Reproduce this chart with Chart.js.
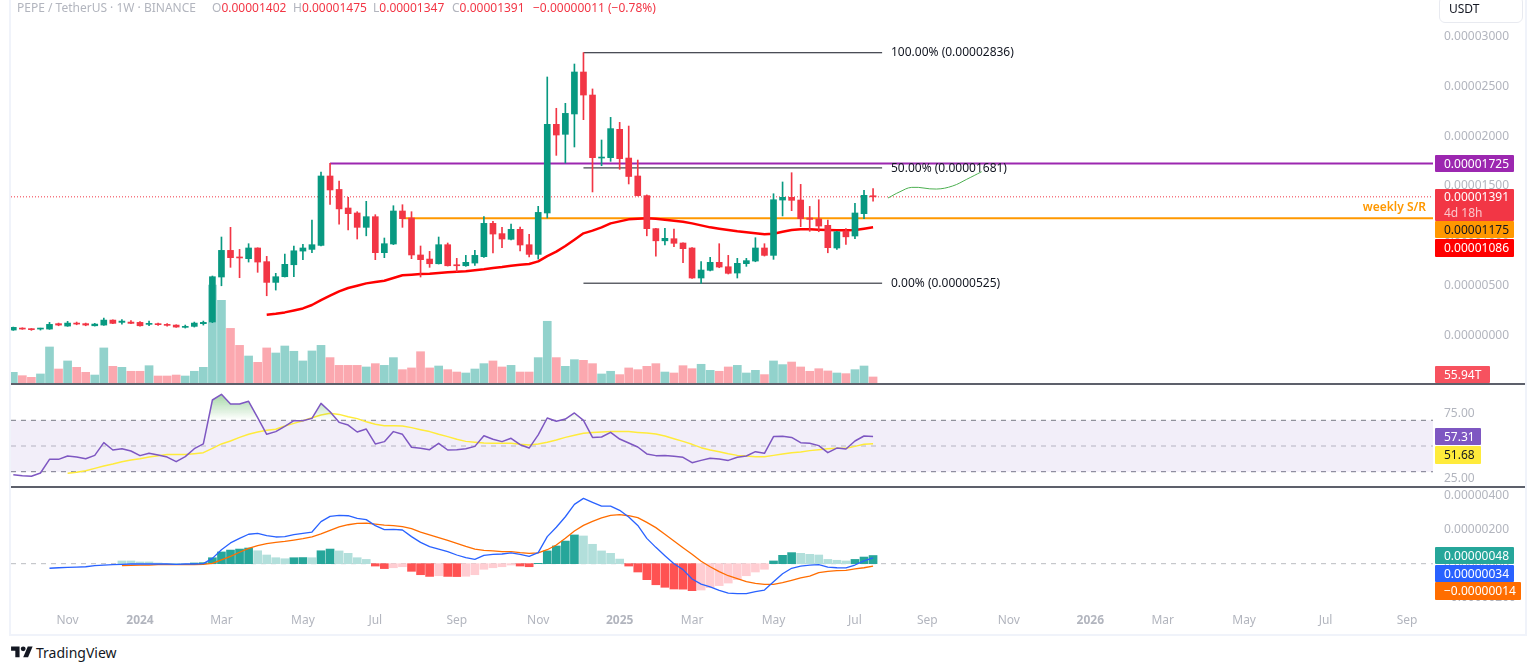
<!DOCTYPE html>
<html>
<head>
<meta charset="utf-8">
<title>PEPE / TetherUS</title>
<script src="https://cdn.jsdelivr.net/npm/chart.js@4/dist/chart.umd.min.js"></script>
<style>
  html, body { margin: 0; padding: 0; background: #fff; }
  body { width: 1536px; height: 671px; overflow: hidden; position: relative; font-family: "Noto Sans", sans-serif; font-size: 12px; color: #131722; }
  canvas { position: absolute; left: 11px; }
  .frame { position: absolute; background: #f0f3fa; }
  .sep { position: absolute; left: 11px; width: 1514px; height: 2px; background: #5d606b; }
  .head { position: absolute; top: 0; white-space: pre; line-height: 15px; color: #b2b5be; }
  .red { color: #f23645; }
  .tag { position: absolute; left: 1435px; width: 70px; padding-left: 9px; color: #fff; line-height: 17px; border-radius: 1px; white-space: nowrap; }
  .fib { position: absolute; left: 891px; line-height: 16px; white-space: nowrap; }
  .usdt { position: absolute; left: 1439px; top: -4px; width: 73px; height: 25px; padding-left: 9px; line-height: 24px; border: 1px solid #e8eaf0; border-radius: 6px; }
</style>
</head>
<body>
<div class="frame" style="left:9px;top:0;width:2px;height:636px"></div>
<div class="frame" style="left:1525px;top:0;width:2px;height:636px"></div>
<div class="frame" style="left:9px;top:634px;width:1518px;height:2px"></div>

<canvas id="mainChart" width="1514" height="383" style="top:0"></canvas>
<canvas id="rsiChart" width="1514" height="102" style="top:384px"></canvas>
<canvas id="macdChart" width="1514" height="147" style="top:487px"></canvas>

<div class="sep" style="top:383px"></div>
<div class="sep" style="top:486px"></div>

<div class="head" style="left:17px">PEPE / TetherUS · 1W · BINANCE</div>
<div class="head" style="left:212px">O<span class="red">0.00001402</span></div>
<div class="head" style="left:293px">H<span class="red">0.00001475</span></div>
<div class="head" style="left:373px">L<span class="red">0.00001347</span></div>
<div class="head" style="left:452px">C<span class="red">0.00001391</span></div>
<div class="head red" style="left:533px">−0.00000011 (−0.78%)</div>
<div class="usdt">USDT</div>

<div class="fib" style="top:44px">100.00% (0.00002836)</div>
<div class="fib" style="top:160px">50.00% (0.00001681)</div>
<div class="fib" style="top:275px">0.00% (0.00000525)</div>
<div style="position:absolute;right:110px;top:199px;color:#ff9800;font-weight:600;line-height:16px">weekly S/R</div>

<div class="tag" style="top:155px;background:#9c27b0">0.00001725</div>
<div class="tag" style="top:189px;height:32px;background:#f23645;line-height:16px">0.00001391<br><span style="color:#fbc6cb">4d 18h</span></div>
<div class="tag" style="top:221px;background:#ff9800;color:#131722">0.00001175</div>
<div class="tag" style="top:239px;height:18px;background:#ff0000">0.00001086</div>
<div class="tag" style="top:366px;width:46px;background:#f7525f">55.94T</div>
<div class="tag" style="top:428px;width:37px;background:#7e57c2">57.31</div>
<div class="tag" style="top:446px;width:37px;height:18px;background:#ffeb3b;color:#131722">51.68</div>
<div class="tag" style="top:547px;background:#26a69a">0.00000048</div>
<div class="tag" style="top:565px;background:#2962ff">0.00000034</div>
<div class="tag" style="top:582px;width:77px;height:18px;background:#ff6d00">−0.00000014</div>

<svg style="position:absolute;left:11px;top:644px" width="22" height="17" viewBox="0 0 36 28"><path fill="#131722" d="M14 22H7V11H0V4h14v18zM28 22h-8l7.5-18h8L28 22z"/><circle fill="#131722" cx="20" cy="8" r="4"/></svg>
<div style="position:absolute;left:36px;top:643px;font-size:14px;line-height:20px">TradingView</div>

<script>
// prices are in units of 0.000001 USDT, volume in T
const open_ = [0.55,0.75,0.69,0.65,0.65,1.19,0.95,1.25,1.19,0.98,1.05,1.55,1.32,1.35,1.32,1.12,1.15,1.09,1.05,0.82,0.92,1.19,1.36,5.87,8.54,7.84,7.71,8.78,7.41,5.33,5.9,7.1,8.47,8.64,9.04,16,14.65,12.79,12.29,10.85,11.92,8.31,9.18,12.49,11.79,8.08,7.67,7.2,9.11,7.04,7,7.27,7.91,11.25,10.22,9.65,10.65,9.11,8.14,12.29,21.18,20.18,22.22,26.43,24.12,17.8,17.84,20.68,17.8,16,14.03,10.72,9.5,9.71,9.28,8.78,5.77,6.54,7.34,6.9,6.27,7.21,7.47,8.78,8.04,13.59,13.86,13.59,11.79,11.69,11.05,8.78,10.48,9.98,12.22,14.02];
const high = [0.85,0.78,0.7,0.74,1.32,1.25,1.42,1.35,1.25,1.22,1.75,1.58,1.59,1.49,1.39,1.45,1.25,1.19,1.08,1.05,1.35,1.45,5.97,9.88,10.85,8.64,9.21,8.8,7.94,6.24,8.17,8.98,9.14,11.58,16.4,17.27,15.5,13.86,12.42,13.46,12.12,9.78,13.02,13.12,12.42,8.98,8.44,9.88,9.28,7.74,8.04,8.54,11.92,11.45,10.85,11.18,10.88,10.15,12.96,25.93,22.79,23.29,27.23,28.37,24.73,19.61,21.88,21.38,21.01,17.6,14.1,10.75,10.75,10.68,9.3,8.82,7.41,7.84,9.21,8.04,7.74,7.74,9.81,9.21,14.22,15.4,16.33,15.16,12.95,13.62,11.58,10.45,10.72,13.26,14.56,14.75];
const low = [0.52,0.62,0.52,0.55,0.62,0.98,0.92,1.08,0.98,0.95,1.02,1.18,1.15,1.18,0.95,0.98,1.02,0.95,0.82,0.75,0.85,1.05,1.29,4.99,6.84,5.8,7.37,6.34,3.99,4.56,5.87,5.9,7.61,8.3,8.98,13.15,11.18,10.58,9.68,10,7.61,7.81,9.12,10.85,7.71,5.87,6.84,7.17,6.97,6.4,6.94,7.04,7.84,8.28,8.81,9.58,8.48,7.88,7.67,11.79,18.07,17.3,18.91,21.65,14.4,17.03,17.47,16.67,15.2,14,10,7.97,9.08,8.9,7.31,5.72,5.23,6.47,6.8,6.17,5.77,6.94,7.4,7.97,7.64,11.99,12.52,10.92,10.45,10.41,8.3,8.64,9.14,9.71,11.72,13.47];
const close_ = [0.82,0.65,0.59,0.72,1.12,1.05,1.25,1.15,1.05,1.15,1.55,1.22,1.45,1.22,0.98,1.19,1.09,1.02,0.85,0.92,1.25,1.32,5.9,8.54,7.81,7.78,8.78,7.37,5.33,5.9,7.14,8.5,8.78,9.11,16,14.6,12.7,12.22,10.85,11.92,8.31,9.21,12.49,11.72,8.08,7.61,7.2,9.11,7,7,7.34,8.04,11.25,10.18,9.68,10.65,9.08,8.14,12.35,21.18,20.11,22.28,26.43,24.12,17.84,17.87,20.75,17.74,15.95,14.03,10.72,9.5,9.75,9.25,8.71,5.77,6.57,7.34,6.87,6.24,7.24,7.51,8.78,8.04,13.62,13.86,13.56,11.72,11.65,10.98,8.81,10.41,9.9,12.29,14.06,13.91];
const volume = [99,68,53,84,335,130,205,146,99,74,326,155,146,109,109,161,65,65,74,65,109,146,911,769,508,350,251,192,326,279,344,295,205,298,350,236,164,164,164,149,180,164,236,124,140,291,140,158,124,102,93,130,180,205,149,164,102,102,236,574,236,155,217,211,180,84,109,78,140,124,155,180,102,93,161,133,174,118,109,149,164,93,118,78,205,171,195,149,109,133,112,93,87,124,158,56];
const maStart = 28;
const maValues = [2.09,2.19,2.32,2.52,2.72,3.06,3.56,4,4.43,4.77,5,5.23,5.37,5.5,5.77,6.04,6.1,6.17,6.2,6.27,6.34,6.4,6.44,6.54,6.64,6.77,6.87,7,7.1,7.17,7.44,7.97,8.41,8.98,9.61,10.25,10.52,10.85,11.25,11.45,11.65,11.7,11.75,11.72,11.62,11.52,11.42,11.25,11.05,10.85,10.72,10.58,10.45,10.35,10.25,10.15,10.21,10.41,10.58,10.65,10.65,10.61,10.58,10.55,10.55,10.58,10.72,10.86];
const projX = [96.65,97.97,99.27,102,103.8,105.35,107];
const projY = [13.79,14.42,14.86,14.69,15,15.67,16.43];

const rsi = [27.7,26.9,26.4,29,39.6,39.6,42.2,41.4,40.1,42.7,52.6,46.9,47.9,46.1,42.5,44.3,43,41.4,37.8,41.7,47.9,51.6,85.8,90.2,82.7,82.7,84.8,72,59.1,61.2,65.3,69.7,69.7,71.5,83.2,76.7,68.4,66.3,60.9,63.2,51.6,53.4,61.2,59.1,49,48.2,47.1,52.1,46.9,47.1,47.9,49.7,58,55.2,53.4,56,51,48.4,58.6,71.8,69.2,71,75.7,70,56.7,57,60.6,55.4,52.3,49.2,43.8,42.5,42.7,42,41.2,37,38.8,40.4,39.9,38.8,41.2,42.2,45.6,44.3,57.3,57.5,56.7,52.6,52.1,50.3,44.8,48.4,47.7,53.9,57.8,57.31];
const rsiMaStart = 6;
const rsiMa = [28.7,29.5,30.8,32.6,34.4,36,37.8,39.1,40.1,41.4,42.5,43.3,43.3,43.3,44,44.8,48.2,51.6,53.9,56.7,59.1,60.9,62.2,63,65.6,67.6,69.7,72,74.1,75.4,74.6,72.8,71.3,68.9,66.9,65.8,65.8,65.6,64.3,62.7,61.2,59.1,57.3,55.2,53.6,52.9,52.3,52.1,52.1,52.1,51.3,50.8,51.6,52.9,54.7,56.7,58.3,59.9,60.6,60.9,61.2,61.2,61.2,60.6,60.1,59.3,57.8,55.7,53.6,51.3,48.7,46.9,45.6,44,42.7,42.2,41.7,41.7,42.7,43.8,44.8,45.3,46.4,47.1,47.9,48.2,48.2,49.7,51.3,51.68];

const macdStart = 4;
const macd = [-0.27,-0.24,-0.22,-0.2,-0.18,-0.12,-0.08,-0.06,-0.04,-0.02,-0.02,-0.02,-0.02,-0.02,-0.04,-0.02,-0.02,0,0.31,0.82,1.22,1.49,1.73,1.78,1.65,1.57,1.59,1.71,1.78,1.86,2.47,2.78,2.84,2.82,2.67,2.59,2.24,2,2.02,1.98,1.59,1.25,1,0.86,0.71,0.51,0.35,0.25,0.49,0.55,0.57,0.63,0.55,0.43,0.65,1.59,2.14,2.76,3.49,3.84,3.61,3.39,3.39,3.14,2.75,2.25,1.49,0.96,0.47,0,-0.35,-0.9,-1.2,-1.37,-1.57,-1.73,-1.76,-1.76,-1.65,-1.55,-1.06,-0.59,-0.27,-0.14,-0.08,-0.06,-0.2,-0.24,-0.25,-0.08,0.16,0.34];
const signalStart = 12;
const signal = [-0.12,-0.1,-0.08,-0.08,-0.06,-0.06,-0.06,-0.06,-0.06,-0.04,0.02,0.22,0.43,0.67,0.9,1.06,1.18,1.25,1.31,1.39,1.47,1.57,1.75,1.96,2.16,2.29,2.37,2.39,2.33,2.27,2.24,2.18,2.06,1.86,1.69,1.53,1.37,1.2,1.02,0.86,0.78,0.75,0.71,0.71,0.65,0.61,0.63,0.82,1.1,1.49,1.92,2.25,2.49,2.69,2.84,2.88,2.82,2.71,2.43,2.12,1.73,1.33,0.94,0.55,0.14,-0.18,-0.47,-0.71,-0.88,-1.06,-1.16,-1.22,-1.22,-1.12,-0.98,-0.84,-0.73,-0.53,-0.45,-0.41,-0.39,-0.31,-0.24,-0.14];
const hist = [0.16,0.16,0.1,0.1,0.04,0.02,0.02,0.02,0.04,0.06,0.35,0.69,0.8,0.86,0.92,0.76,0.51,0.35,0.29,0.35,0.36,0.35,0.76,0.86,0.75,0.61,0.35,0.25,-0.14,-0.29,-0.24,-0.18,-0.45,-0.65,-0.75,-0.71,-0.75,-0.76,-0.74,-0.65,-0.33,-0.24,-0.18,-0.08,-0.14,-0.18,0.02,0.75,1.04,1.33,1.69,1.63,1.14,0.75,0.61,0.27,-0.14,-0.49,-0.94,-1.24,-1.39,-1.49,-1.5,-1.59,-1.55,-1.41,-1.29,-1.14,-0.94,-0.71,-0.49,-0.33,0.16,0.49,0.65,0.61,0.55,0.51,0.25,0.2,0.16,0.25,0.39,0.48];

const xTickIdx = [6,14,23,32,40,49,58,67,75,84,93,101,110,119,127,136,145,154];
const xTickLabels = ['Nov','2024','Mar','May','Jul','Sep','Nov','2025','Mar','May','Jul','Sep','Nov','2026','Mar','May','Jul','Sep'];
const priceTicks = [0,5,10,15,20,25,30];
const rsiTicks = [25,75];
const macdTicks = [-2,0,2,4];

const resistance = 17.25, support = 11.75;
const fibLevels = [28.36, 16.81, 5.25];
const lastClose = 13.91;

const X_MIN = -0.254, X_MAX = 156.87;
const UP = '#089981', DOWN = '#f23645';
const GREY = '#b2b5be';
const FONT = '"Noto Sans", sans-serif';

Chart.defaults.font.family = FONT;
Chart.defaults.font.size = 12;
Chart.defaults.animation = false;

function series(values, start) {
  return values.map((y, i) => ({ x: i + start, y }));
}

function hline(y, x0, x1, color, width, order, dash) {
  return {
    type: 'line', data: [{ x: x0, y }, { x: x1, y }], borderColor: color, borderWidth: width,
    borderDash: dash || [], pointRadius: 0, order
  };
}

function curve(data, color, width, order, tension) {
  return {
    type: 'line', data, borderColor: color, borderWidth: width, pointRadius: 0, order,
    tension: tension || 0, borderJoinStyle: 'round'
  };
}

function yAxis(min, max, ticks, fmt) {
  return {
    position: 'right', min, max,
    grid: { display: false, drawTicks: false }, border: { display: false },
    afterFit: (s) => { s.width = 92; s.paddingTop = 0; s.paddingBottom = 0; },
    afterBuildTicks: (s) => { s.ticks = ticks.map((value) => ({ value })); },
    ticks: { color: GREY, padding: 11, callback: fmt, autoSkip: false }
  };
}

const priceFmt = (v) => (v < 0 ? '−' : '') + (Math.abs(v) * 1e-6).toFixed(8);
const hiddenX = { type: 'linear', min: X_MIN, max: X_MAX, offset: false, display: false, grid: { display: false } };
const base = {
  responsive: false, maintainAspectRatio: false, animation: false, devicePixelRatio: 1,
  layout: { padding: 0, autoPadding: false }, plugins: { legend: { display: false }, tooltip: { enabled: false } }
};

// main pane
const candleColors = close_.map((c, i) => (c >= open_[i] ? UP : DOWN));
const volColors = close_.map((c, i) => (c >= open_[i] ? 'rgba(38,166,154,.5)' : 'rgba(247,82,95,.5)'));

new Chart(document.getElementById('mainChart'), {
  type: 'bar',
  data: {
    datasets: [
      { data: volume.map((y, x) => ({ x, y })), yAxisID: 'vol', backgroundColor: volColors, barThickness: 8, grouped: false, order: 10 },
      hline(resistance, 35, X_MAX, '#9c27b0', 2, 9),
      hline(support, 43, X_MAX, '#ff9800', 2, 9),
      hline(fibLevels[0], 63, 96, '#131722', 1, 9),
      hline(fibLevels[1], 63, 96, '#131722', 1, 9),
      hline(fibLevels[2], 63, 96, '#131722', 1, 9),
      hline(lastClose, X_MIN, X_MAX, DOWN, 1, 9, [1, 2]),
      curve(series(maValues, maStart), '#ff0000', 2.5, 8),
      curve(projX.map((x, i) => ({ x, y: projY[i] })), '#4caf50', 1, 8, 0.4),
      { data: high.map((h, x) => ({ x, y: [low[x], h] })), backgroundColor: candleColors, barThickness: 1, grouped: false, order: 7 },
      { data: open_.map((o, x) => ({ x, y: [o, close_[x]] })), backgroundColor: candleColors, barThickness: 6, minBarLength: 1, grouped: false, order: 6 }
    ]
  },
  options: {
    ...base,
    scales: {
      x: hiddenX,
      y: yAxis(-4.76, 33.65, priceTicks, priceFmt),
      vol: { axis: 'y', min: 0, max: 3562, display: false }
    }
  }
});

// rsi pane
const rsiCanvas = document.getElementById('rsiChart');
const obFill = rsiCanvas.getContext('2d').createLinearGradient(0, 8, 0, 36);
obFill.addColorStop(0, 'rgba(76,175,80,.55)');
obFill.addColorStop(1, 'rgba(76,175,80,0)');

new Chart(rsiCanvas, {
  type: 'line',
  data: {
    datasets: [
      { ...hline(70, X_MIN, X_MAX, '#787b86', 1, 9, [5, 5]), fill: { target: { value: 30 }, above: 'rgba(126,87,194,.1)', below: 'rgba(126,87,194,.1)' } },
      hline(50, X_MIN, X_MAX, 'rgba(120,123,134,.5)', 1, 9, [5, 5]),
      hline(30, X_MIN, X_MAX, '#787b86', 1, 9, [5, 5]),
      curve(series(rsiMa, rsiMaStart), '#ffeb3b', 1.5, 8),
      { ...curve(series(rsi, 0), '#7e57c2', 1.5, 7), fill: { target: { value: 70 }, above: obFill, below: 'rgba(0,0,0,0)' } }
    ]
  },
  options: {
    ...base,
    scales: { x: hiddenX, y: yAxis(18.87, 98.25, rsiTicks, (v) => v.toFixed(2)) }
  }
});

// macd pane
const histColors = hist.map((v, i) => {
  const prev = i ? hist[i - 1] : v;
  if (v >= 0) return v > prev ? '#26a69a' : '#b2dfdb';
  return v < prev ? '#ff5252' : '#ffcdd2';
});

new Chart(document.getElementById('macdChart'), {
  type: 'bar',
  data: {
    datasets: [
      hline(0, X_MIN, X_MAX, 'rgba(120,123,134,.5)', 1, 9, [5, 5]),
      { data: series(hist, signalStart), backgroundColor: histColors, barThickness: 8, grouped: false, order: 8 },
      curve(series(signal, signalStart), '#ff6d00', 1.3, 7),
      curve(series(macd, macdStart), '#2962ff', 1.3, 6)
    ]
  },
  options: {
    ...base,
    scales: {
      x: {
        type: 'linear', min: X_MIN, max: X_MAX, offset: false,
        grid: { display: false, drawTicks: false }, border: { display: false },
        afterFit: (s) => { s.height = 28; },
        afterBuildTicks: (s) => { s.ticks = xTickIdx.map((value) => ({ value })); },
        ticks: {
          color: GREY, padding: 7, maxRotation: 0, autoSkip: false,
          callback: (v) => xTickLabels[xTickIdx.indexOf(v)],
          font: (ctx) => ({ family: FONT, size: 12, weight: /^\d/.test(ctx.tick ? ctx.tick.label : '') ? 'bold' : 'normal' })
        }
      },
      y: yAxis(-2.49, 4.51, macdTicks, priceFmt)
    }
  }
});
</script>
</body>
</html>
